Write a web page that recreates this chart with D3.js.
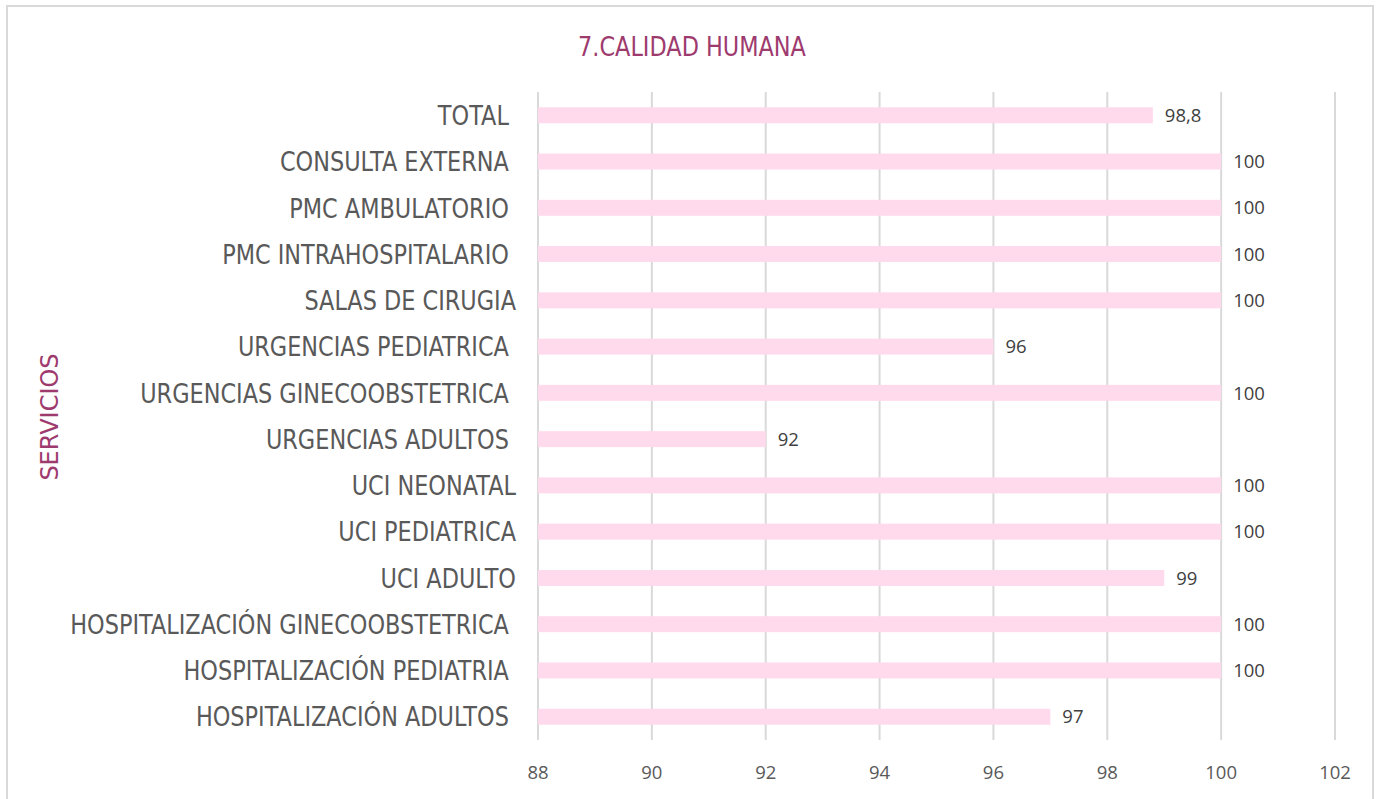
<!DOCTYPE html>
<html>
<head>
<meta charset="utf-8">
<script src="https://cdn.jsdelivr.net/npm/d3@7"></script>
<style>
  body { margin: 0; background: #fff; }
  text { white-space: pre; }
</style>
</head>
<body>
<div id="chart"></div>
<script>
// chart data
let servicios = [
    "TOTAL ",
    "CONSULTA EXTERNA ",
    "PMC AMBULATORIO ",
    "PMC INTRAHOSPITALARIO ",
    "SALAS DE CIRUGIA",
    "URGENCIAS PEDIATRICA ",
    "URGENCIAS GINECOOBSTETRICA ",
    "URGENCIAS ADULTOS ",
    "UCI NEONATAL",
    "UCI PEDIATRICA",
    "UCI ADULTO",
    "HOSPITALIZACIÓN GINECOOBSTETRICA ",
    "HOSPITALIZACIÓN PEDIATRIA ",
    "HOSPITALIZACIÓN ADULTOS "
];
let valores = [98.8, 100, 100, 100, 100, 96, 100, 92, 100, 100, 99, 100, 100, 97];
let ticks = [88, 90, 92, 94, 96, 98, 100, 102];

let width = 1377,
    height = 799;

let margin = {top: 92, right: 42, bottom: 59, left: 538};

// the original font is a narrow sans, so squeeze DejaVu horizontally
let labelFont = "'DejaVu Sans', sans-serif";
let labelWidth = 446; // width of the longest category label (with its trailing space)

let svg = d3.select("#chart").append("svg")
    .attr("width", width)
    .attr("height", height)
    .style("display", "block");

// chart frame
svg.append("rect")
    .attr("x", 7)
    .attr("y", 6)
    .attr("width", 1366)
    .attr("height", 800)
    .attr("fill", "#fff")
    .attr("stroke", "#d9d9d9")
    .attr("stroke-width", 2);

let x = d3.scaleLinear()
    .domain([88, 102])
    .range([margin.left, width - margin.right]);

let y = d3.scaleBand()
    .domain(servicios)
    .range([margin.top, height - margin.bottom])
    .paddingInner(0.655)
    .paddingOuter(0.33);

// vertical gridlines
svg.append("g")
    .selectAll("line")
    .data(ticks)
    .enter().append("line")
    .attr("x1", d => x(d))
    .attr("x2", d => x(d))
    .attr("y1", margin.top)
    .attr("y2", height - margin.bottom)
    .attr("stroke", "#d9d9d9")
    .attr("stroke-width", 2);

// tick labels
svg.append("g")
    .selectAll("text")
    .data(ticks)
    .enter().append("text")
    .attr("x", d => x(d))
    .attr("y", 779)
    .attr("text-anchor", "middle")
    .attr("font-family", "'Open Sans', sans-serif")
    .attr("font-size", 18.5)
    .attr("fill", "#595959")
    .text(d => d);

// bars
svg.append("g")
    .selectAll("rect")
    .data(valores)
    .enter().append("rect")
    .attr("x", x(88))
    .attr("y", (d, i) => y(servicios[i]))
    .attr("width", d => x(d) - x(88))
    .attr("height", y.bandwidth())
    .attr("fill", "#ffd9ec");

// value labels
svg.append("g")
    .selectAll("text")
    .data(valores)
    .enter().append("text")
    .attr("x", d => x(d) + 12)
    .attr("y", (d, i) => y(servicios[i]) + y.bandwidth() / 2)
    .attr("dy", "0.36em")
    .attr("font-family", "'Open Sans', sans-serif")
    .attr("font-size", 18.5)
    .attr("fill", "#404040")
    .text(d => String(d).replace(".", ","));

// category labels
let catLabels = svg.append("g")
    .selectAll("text")
    .data(servicios)
    .enter().append("text")
    .attr("x", 0)
    .attr("y", 0)
    .attr("dy", "0.36em")
    .attr("text-anchor", "end")
    .attr("font-family", labelFont)
    .attr("font-size", 27)
    .attr("fill", "#595959")
    .text(d => d);

let longest = d3.max(catLabels.nodes(), n => n.getComputedTextLength());
let sx = labelWidth / longest;

catLabels.attr("transform", d =>
    "translate(516," + (y(d) + y.bandwidth() / 2) + ") scale(" + sx + ",1)");

// title
svg.append("text")
    .attr("transform", "translate(692,56) scale(" + sx + ",1)")
    .attr("text-anchor", "middle")
    .attr("font-family", labelFont)
    .attr("font-size", 27)
    .attr("fill", "#9e3b6e")
    .text("7.CALIDAD HUMANA");

// axis title
svg.append("text")
    .attr("transform", "translate(58,417) rotate(-90)")
    .attr("text-anchor", "middle")
    .attr("font-family", labelFont)
    .attr("font-size", 24)
    .attr("fill", "#9e3b6e")
    .text("SERVICIOS");
</script>
</body>
</html>
